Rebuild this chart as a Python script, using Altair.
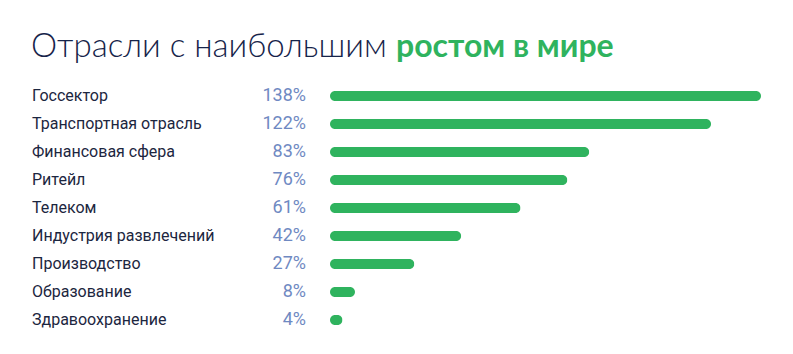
import altair as alt
import pandas as pd

categories = ["Госсектор", "Транспортная отрасль", "Финансовая сфера", "Ритейл", "Телеком",
              "Индустрия развлечений", "Производство", "Образование", "Здравоохранение"]
values = [138, 122, 83, 76, 61, 42, 27, 8, 4]

df = pd.DataFrame({"cat": categories, "val": values, "lbl": [f"{v}%" for v in values]})

yenc = alt.Y("cat:N", sort=categories, axis=None,
             scale=alt.Scale(range=[82, 334], paddingInner=0, paddingOuter=0))
xscale = alt.Scale(domain=[0, 138], range=[330, 761])

base = alt.Chart(df)

bars = base.mark_bar(size=10, cornerRadius=5, color="#2fb35e").encode(
    x=alt.X("val:Q", scale=xscale, axis=None), y=yenc)

cat_text = base.mark_text(align="left", baseline="middle", font="Roboto", fontSize=16,
                          color="#1c2640").encode(x=alt.value(32), y=yenc, text="cat:N")

pct_text = base.mark_text(align="right", baseline="middle", font="Roboto", fontSize=18,
                          color="#6f89c2").encode(x=alt.value(306), y=yenc, text="lbl:N")

tdf = pd.DataFrame({"a": [0]})
t1 = alt.Chart(tdf).mark_text(align="left", baseline="alphabetic", font="Lato", fontSize=33,
                              fontWeight=300, color="#16244a").encode(
    x=alt.value(31), y=alt.value(57), text=alt.value("Отрасли с наибольшим"))
t2 = alt.Chart(tdf).mark_text(align="left", baseline="alphabetic", font="Lato", fontSize=32,
                              fontWeight="bold", color="#2fb35e").encode(
    x=alt.value(396), y=alt.value(57), text=alt.value("ростом в мире"))

chart = alt.layer(bars, cat_text, pct_text, t1, t2).properties(
    width=793, height=354, padding=0, autosize=alt.AutoSizeParams(type="none")
).configure_view(stroke=None)

chart.save("out.html", embed_options={"renderer": "svg", "actions": False})
